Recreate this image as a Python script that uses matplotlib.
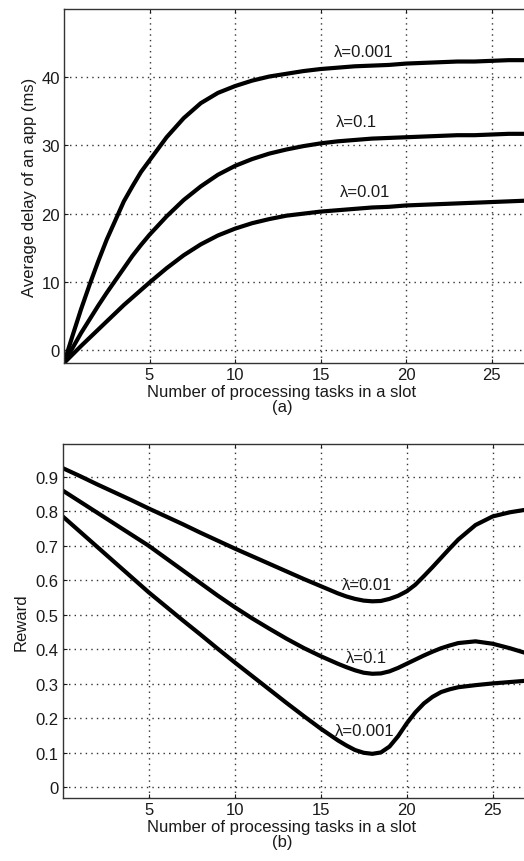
import numpy as np
import matplotlib
matplotlib.use('Agg')
import matplotlib.pyplot as plt

plt.rcParams['font.family'] = ['Liberation Sans', 'DejaVu Sans']

# ---- data ----
# (a) average delay
x_delay = [0, 0.5, 1, 1.5, 2, 2.5, 3, 3.5, 4, 4.5, 5, 6, 7, 8, 9, 10, 11, 12, 13, 14, 15,
           16, 17, 18, 19, 20, 21, 22, 23, 24, 25, 26, 27]
delay_l0001 = [-1.9, 2.1, 6.0, 9.6, 13.0, 16.2, 19.0, 21.8, 24.0, 26.1, 27.8, 31.2, 34.0, 36.2,
               37.7, 38.7, 39.5, 40.1, 40.5, 40.9, 41.2, 41.4, 41.6, 41.7, 41.8, 42.0, 42.1, 42.2,
               42.3, 42.3, 42.4, 42.5, 42.5]
delay_l01 = [-1.9, 0.3, 2.5, 4.5, 6.5, 8.4, 10.2, 12.0, 13.8, 15.4, 16.9, 19.6, 22.0, 24.0,
             25.7, 27.0, 28.0, 28.8, 29.4, 29.9, 30.3, 30.6, 30.8, 31.0, 31.1, 31.2, 31.3, 31.4,
             31.5, 31.5, 31.6, 31.7, 31.7]
delay_l001 = [-1.9, -0.65, 0.6, 1.8, 3.0, 4.2, 5.4, 6.6, 7.7, 8.8, 9.9, 12.0, 13.9, 15.5,
              16.8, 17.8, 18.6, 19.2, 19.7, 20.0, 20.3, 20.5, 20.7, 20.9, 21.0, 21.2, 21.3, 21.4,
              21.5, 21.6, 21.7, 21.8, 21.9]

# (b) reward
x_reward = [0, 1, 2, 3, 4, 5, 6, 7, 8, 9, 10, 11, 12, 13, 14, 15, 16, 16.5, 17, 17.5, 18,
            18.5, 19, 19.5, 20, 20.5, 21, 21.5, 22, 22.5, 23, 24, 25, 26, 27]
reward_l001 = [0.925, 0.902, 0.878, 0.855, 0.832, 0.808, 0.785, 0.762, 0.738, 0.715, 0.692,
               0.670, 0.648, 0.626, 0.604, 0.583, 0.562, 0.553, 0.546, 0.541, 0.539, 0.540,
               0.546, 0.555, 0.568, 0.587, 0.612, 0.638, 0.665, 0.692, 0.718, 0.760, 0.785,
               0.797, 0.805]
reward_l01 = [0.86, 0.828, 0.796, 0.764, 0.732, 0.700, 0.664, 0.628, 0.592, 0.556, 0.522,
              0.490, 0.460, 0.431, 0.404, 0.380, 0.358, 0.348, 0.339, 0.332, 0.329, 0.330,
              0.336, 0.346, 0.358, 0.370, 0.382, 0.393, 0.403, 0.411, 0.418, 0.423, 0.416,
              0.403, 0.388]
reward_l0001 = [0.785, 0.741, 0.697, 0.653, 0.609, 0.565, 0.524, 0.483, 0.443, 0.402, 0.362,
                0.323, 0.284, 0.245, 0.207, 0.170, 0.136, 0.121, 0.108, 0.100, 0.097, 0.101,
                0.118, 0.148, 0.185, 0.217, 0.243, 0.262, 0.276, 0.284, 0.290, 0.296, 0.301,
                0.305, 0.309]

x_ticks = [5, 10, 15, 20, 25]
delay_ticks = [0, 10, 20, 30, 40]
reward_ticks = [0, 0.1, 0.2, 0.3, 0.4, 0.5, 0.6, 0.7, 0.8, 0.9]
reward_ticklabels = ['0', '0.1', '0.2', '0.3', '0.4', '0.5', '0.6', '0.7', '0.8', '0.9']

txt = '#1a1a1a'
fs = 12


def style(ax):
    ax.tick_params(direction='in', top=True, right=True, labelsize=fs, colors=txt,
                   length=3, width=0.8, pad=3)
    ax.grid(True, linestyle=(0, (1, 3)), color='#333333', linewidth=1.0)
    for s in ax.spines.values():
        s.set_color('#333333')
        s.set_linewidth(1.0)


fig = plt.figure(figsize=(5.24, 8.62), dpi=100)

# (a) delay
ax1 = fig.add_axes([0.1221, 0.5777, 0.914, 0.4107])
ax1.plot(x_delay, delay_l0001, color='black', lw=3.0, solid_joinstyle='round')
ax1.plot(x_delay, delay_l01, color='black', lw=3.0, solid_joinstyle='round')
ax1.plot(x_delay, delay_l001, color='black', lw=3.0, solid_joinstyle='round')
ax1.set_xlim(0, 28)
ax1.set_ylim(-1.9, 50)
ax1.set_xticks(x_ticks)
ax1.set_yticks(delay_ticks)
style(ax1)
ax1.set_ylabel('Average delay of an app (ms)', fontsize=fs, color=txt, labelpad=3)
ax1.set_xlabel('Number of processing tasks in a slot\n(a)', fontsize=fs, color=txt,
               labelpad=1, linespacing=1.0, x=0.455)
ax1.text(17.5, 43.8, 'λ=0.001', fontsize=fs, color=txt, ha='center', va='center')
ax1.text(17.1, 33.5, 'λ=0.1', fontsize=fs, color=txt, ha='center', va='center')
ax1.text(17.6, 23.2, 'λ=0.01', fontsize=fs, color=txt, ha='center', va='center')

# (b) reward
ax2 = fig.add_axes([0.1197, 0.0727, 0.919, 0.4111])
ax2.plot(x_reward, reward_l001, color='black', lw=3.0, solid_joinstyle='round')
ax2.plot(x_reward, reward_l01, color='black', lw=3.0, solid_joinstyle='round')
ax2.plot(x_reward, reward_l0001, color='black', lw=3.0, solid_joinstyle='round')
ax2.set_xlim(0, 28)
ax2.set_ylim(-0.032, 0.995)
ax2.set_xticks(x_ticks)
ax2.set_yticks(reward_ticks)
ax2.set_yticklabels(reward_ticklabels)
style(ax2)
ax2.set_ylabel('Reward', fontsize=fs, color=txt, labelpad=5)
ax2.set_xlabel('Number of processing tasks in a slot\n(b)', fontsize=fs, color=txt,
               labelpad=1, linespacing=1.0, x=0.455)
ax2.text(17.67, 0.587, 'λ=0.01', fontsize=fs, color=txt, ha='center', va='center')
ax2.text(17.67, 0.377, 'λ=0.1', fontsize=fs, color=txt, ha='center', va='center')
ax2.text(17.58, 0.166, 'λ=0.001', fontsize=fs, color=txt, ha='center', va='center')

fig.savefig('out.png', dpi=100)
